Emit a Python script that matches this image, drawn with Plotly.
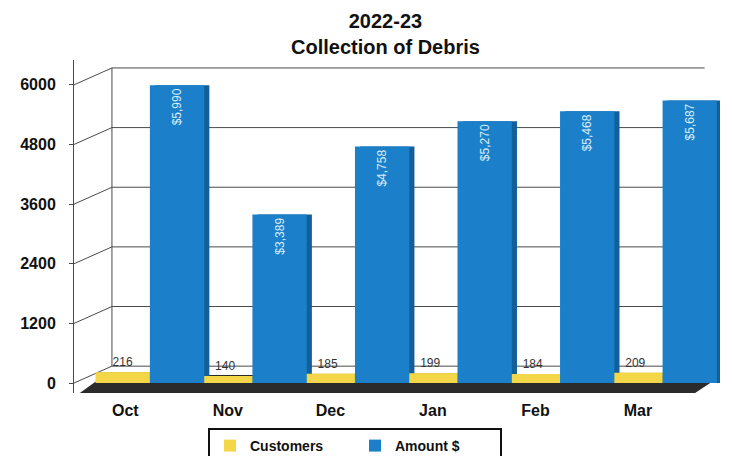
import plotly.graph_objects as go

# Monthly debris collection, fiscal 2022-23
months = ["Oct", "Nov", "Dec", "Jan", "Feb", "Mar"]
customers = [216, 140, 185, 199, 184, 209]
amounts = [5990, 3389, 4758, 5270, 5468, 5687]
y_ticks = [0, 1200, 2400, 3600, 4800, 6000]

YELLOW = "#f3d748"
YELLOW_SIDE = "#c9a820"
BLUE = "#1b80c9"
BLUE_SIDE = "#135f9a"
GRID = "#4a4a4a"

# perspective of the back wall: how far it sits behind the axis plane
WALL_X = -0.13      # category units
WALL_RISE = 340     # value units

amount_text = [f"${v:,}" for v in amounts]
customer_text = [str(v) for v in customers]

fig = go.Figure()

# wall grid: diagonal on the side wall, then across the back wall
for v in y_ticks:
    fig.add_shape(type="line", xref="x", yref="y", layer="below",
                  x0=-0.5, y0=v, x1=WALL_X, y1=v + WALL_RISE,
                  line=dict(color=GRID, width=1))
    fig.add_shape(type="line", xref="x", yref="y", layer="below",
                  x0=WALL_X, y0=v + WALL_RISE, x1=5.65, y1=v + WALL_RISE,
                  line=dict(color=GRID, width=1))
fig.add_shape(type="line", xref="x", yref="y", layer="below",
              x0=WALL_X, y0=WALL_RISE, x1=WALL_X, y1=y_ticks[-1] + WALL_RISE,
              line=dict(color=GRID, width=1))

# depth faces drawn slightly to the right, behind the front faces
fig.add_trace(go.Bar(x=months, y=customers, width=0.53, offset=-0.24,
                     marker=dict(color=YELLOW_SIDE, line=dict(width=0)),
                     showlegend=False, hoverinfo="skip"))
fig.add_trace(go.Bar(x=months, y=amounts, width=0.53, offset=0.29,
                     marker=dict(color=BLUE_SIDE, line=dict(width=0)),
                     showlegend=False, hoverinfo="skip"))

# front faces
fig.add_trace(go.Bar(name="<b>Customers</b>", x=months, y=customers, width=0.53, offset=-0.29,
                     marker=dict(color=YELLOW, line=dict(width=0)),
                     text=customer_text, textposition="outside",
                     textfont=dict(family="Arial", size=12, color="#333333"),
                     cliponaxis=False))
fig.add_trace(go.Bar(name="<b>Amount $</b>", x=months, y=amounts, width=0.53, offset=0.24,
                     marker=dict(color=BLUE, line=dict(width=0)),
                     text=amount_text, textposition="inside", insidetextanchor="end",
                     textangle=-90,
                     textfont=dict(family="Arial", size=12, color="#d8ecfb")))

# dark floor under the bars
fig.add_shape(type="path", xref="x", yref="y", layer="between",
              path="M -0.45,-210 L 5.55,-210 L 5.82,160 L -0.2,160 Z",
              fillcolor="#2b2b2b", line=dict(width=0))

PLOT_TOP = 60
PLOT_H = 333

# two-line chart title
fig.add_annotation(text="<b>2022-23<br>Collection of Debris</b>",
                   xref="paper", yref="paper", x=(385 - 74) / 646,
                   y=1.0 + (PLOT_TOP - 8) / PLOT_H,
                   xanchor="center", yanchor="top", showarrow=False,
                   font=dict(family="Arial", size=20, color="#111111"))

fig.update_layout(
    width=732, height=456,
    margin=dict(l=74, r=12, t=PLOT_TOP, b=456 - PLOT_TOP - PLOT_H, autoexpand=False),
    paper_bgcolor="white", plot_bgcolor="white",
    barmode="overlay",
    font=dict(family="Arial", color="#111111"),
    xaxis=dict(range=[-0.5, 5.8], showgrid=False, zeroline=False,
               showline=False, ticks="",
               tickvals=months, ticktext=[f"<b>{m}</b>" for m in months],
               ticklabelstandoff=6,
               tickfont=dict(family="Arial", size=16, color="#111111")),
    yaxis=dict(range=[-200, 6500], tickvals=y_ticks,
               ticktext=[f"<b>{v}</b>" for v in y_ticks],
               showgrid=False, zeroline=False, showline=True, linecolor=GRID,
               ticks="outside", ticklen=4, tickcolor=GRID,
               ticklabelstandoff=10,
               tickfont=dict(family="Arial", size=16, color="#111111")),
    legend=dict(orientation="h", x=(355 - 74) / 646, xanchor="center",
                yref="container", y=(456 - 428) / 456, yanchor="top",
                bordercolor="#111111", borderwidth=2,
                font=dict(family="Arial", size=14, color="#111111"),
                itemwidth=30, entrywidth=100, traceorder="normal"),
)

fig.write_html("out.html")
